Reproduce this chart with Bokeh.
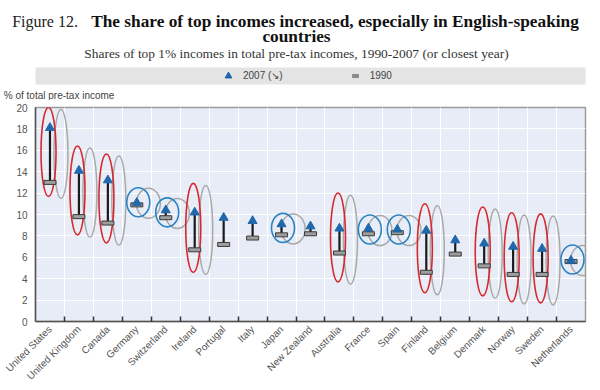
import math
from bokeh.plotting import figure
from bokeh.layouts import column
from bokeh.models import (Range1d, FixedTicker, Legend, LegendItem, BoxAnnotation)
from bokeh.embed import file_html
from bokeh.resources import INLINE
from bokeh.core.properties import value

# ---------------- data ----------------
countries = ["United States", "United Kingdom", "Canada", "Germany", "Switzerland",
             "Ireland", "Portugal", "Italy", "Japan", "New Zealand", "Australia",
             "France", "Spain", "Finland", "Belgium", "Denmark", "Norway", "Sweden",
             "Netherlands"]
share_2007 = [18.1, 14.1, 13.2, 11.1, 10.4, 10.2, 9.7, 9.4, 9.1, 8.9, 8.7, 8.7, 8.6,
              8.5, 7.6, 7.3, 7.0, 6.8, 5.7]
share_1990 = [13.0, 9.8, 9.2, 10.9, 9.7, 6.7, 7.2, 7.8, 8.1, 8.2, 6.4, 8.2, 8.3,
              4.6, 6.3, 5.2, 4.4, 4.4, 5.6]
# country grouping highlighted in the figure
group = ["large", "large", "large", "small", "small", "large", "", "", "small", "",
         "large", "small", "small", "large", "", "large", "large", "large", "small"]
y_ticks = [0, 2, 4, 6, 8, 10, 12, 14, 16, 18, 20]

title_fig = "Figure 12."
title_main = "The share of top incomes increased, especially in English-speaking"
title_line2 = "countries"
subtitle = "Shares of top 1% incomes in total pre-tax incomes, 1990-2007 (or closest year)"
y_label = "% of total pre-tax income"
legend_2007 = "2007 (\u2198)"
legend_1990 = "1990"

# ---------------- styles ----------------
BLUE = "#1f68ad"
RED = "#d7282d"
CIRCLE_BLUE = "#2c83c3"
GREY_RING = "#a9a9a9"
BAR_FILL = "#9e9e9e"
BG = "#e7ecf6"
SANS = "Liberation Sans"
SERIF = "Liberation Serif"

n = len(countries)
xs = [i + 0.5 for i in range(n)]

# ---------------- header figure (page coordinates, y measured upward) ----------------
W = 598
HH = 100
h = figure(width=W, height=HH, x_range=Range1d(0, W), y_range=Range1d(0, HH),
           output_backend="svg", toolbar_location=None, min_border=0,
           x_axis_location=None, y_axis_location=None, frame_align=False)
h.grid.visible = False
h.outline_line_color = None
h.background_fill_color = "white"
h.border_fill_color = "white"

h.add_layout(BoxAnnotation(left=35, right=585, bottom=16, top=33,
                           fill_color="#e4e4e4", fill_alpha=1, line_color=None))

h.text(x=[11.7], y=[79], text=[title_fig], text_font=value(SERIF), text_font_size="16px",
       text_color="#222", text_baseline="alphabetic", text_align="left")
h.text(x=[90.7], y=[79], text=[title_main], text_font=value(SERIF),
       text_font_size="17.3px", text_font_style="bold", text_color="#111",
       text_baseline="alphabetic", text_align="left")
h.text(x=[296], y=[64], text=[title_line2], text_font=value(SERIF),
       text_font_size="17.3px", text_font_style="bold", text_color="#111",
       text_align="center", text_baseline="alphabetic")
h.text(x=[296], y=[47], text=[subtitle], text_font=value(SERIF), text_font_size="13.4px",
       text_color="#333", text_align="center", text_baseline="alphabetic")
h.text(x=[3.3], y=[5], text=[y_label], text_font=value(SANS), text_font_size="10px",
       text_color="#444", text_baseline="middle", text_align="left")

# legend proxies (outside visible range)
lr1 = h.scatter([-50], [-50], marker="triangle", size=9, fill_color=BLUE, line_color=BLUE)
lr2 = h.scatter([-50], [-50], marker="dash", size=9, line_color="#8a8a8a", line_width=4)
legend = Legend(items=[LegendItem(label=legend_2007, renderers=[lr1]),
                       LegendItem(label=legend_1990, renderers=[lr2])],
                orientation="horizontal", location=(218, 16), padding=0, spacing=62,
                glyph_width=20, glyph_height=17, label_standoff=5, margin=0,
                background_fill_alpha=0, border_line_color=None,
                label_text_font=SANS, label_text_font_size="10px",
                label_text_color="#444")
h.add_layout(legend)

# ---------------- main chart ----------------
p = figure(width=W, height=288, x_range=Range1d(0, n), y_range=Range1d(0, 20),
           output_backend="svg", toolbar_location=None, frame_align=False,
           min_border_left=35, min_border_right=13, min_border_top=7, min_border_bottom=64)
p.background_fill_color = BG
p.border_fill_color = "white"
p.outline_line_color = "#9a9a9a"
p.outline_line_width = 1.5

large = [i for i, g in enumerate(group) if g == "large"]
small = [i for i, g in enumerate(group) if g == "small"]
mid = [(a + b) / 2 for a, b in zip(share_2007, share_1990)]

# grey companion rings (drawn first, offset to the right)
p.ellipse([xs[i] + 0.38 for i in large], [mid[i] + 0.1 for i in large],
          width=14, height=89, width_units="screen", height_units="screen",
          fill_color=None, line_color=GREY_RING, line_width=1.5)
p.ellipse([xs[i] + 0.4 for i in small], [mid[i] + 0.05 for i in small],
          width=24, height=30, width_units="screen", height_units="screen",
          fill_color=None, line_color=GREY_RING, line_width=1.5)
# coloured rings
p.ellipse([xs[i] - 0.05 for i in large], [mid[i] + 0.3 for i in large],
          width=15, height=89, width_units="screen", height_units="screen",
          fill_color=None, line_color=RED, line_width=1.6)
p.ellipse([xs[i] + 0.05 for i in small], [mid[i] + 0.15 for i in small],
          width=23, height=29, width_units="screen", height_units="screen",
          fill_color=None, line_color=CIRCLE_BLUE, line_width=1.6)

# arrows 1990 -> 2007
p.segment(x0=xs, y0=share_1990, x1=xs, y1=share_2007, line_color="#1a1a1a", line_width=2.2)
p.rect(xs, share_1990, width=12, height=4, width_units="screen", height_units="screen",
       fill_color=BAR_FILL, line_color="#3a3a3a", line_width=1)
p.scatter(xs, share_2007, marker="triangle", size=9, fill_color=BLUE, line_color=BLUE)

# axes
p.xaxis.ticker = FixedTicker(ticks=xs, minor_ticks=list(range(1, n)))
p.xaxis.major_label_overrides = {x: c for x, c in zip(xs, countries)}
p.xaxis.major_label_orientation = math.pi / 4
p.xaxis.major_tick_line_color = None
p.xaxis.major_tick_in = 0
p.xaxis.major_tick_out = 0
p.xaxis.minor_tick_line_color = "#333"
p.xaxis.minor_tick_line_width = 1.5
p.xaxis.minor_tick_in = 5
p.xaxis.minor_tick_out = 0
p.xaxis.major_label_standoff = 6
p.xaxis.major_label_text_font = SANS
p.xaxis.major_label_text_font_size = "10px"
p.xaxis.major_label_text_color = "#555"
p.xaxis.axis_line_color = "#555"
p.xaxis.axis_line_width = 1.5

p.yaxis.ticker = FixedTicker(ticks=y_ticks)
p.yaxis.major_tick_line_color = None
p.yaxis.major_tick_in = 0
p.yaxis.major_tick_out = 0
p.yaxis.minor_tick_line_color = None
p.yaxis.major_label_standoff = 8
p.yaxis.major_label_text_font = SANS
p.yaxis.major_label_text_font_size = "10px"
p.yaxis.major_label_text_color = "#555"
p.yaxis.axis_line_color = "#555"
p.yaxis.axis_line_width = 1.5

p.xgrid.ticker = FixedTicker(ticks=list(range(1, n)))
p.xgrid.grid_line_color = "white"
p.xgrid.grid_line_width = 1
p.ygrid.grid_line_color = "white"
p.ygrid.grid_line_width = 1

layout = column(h, p, spacing=0)
open("out.html", "w").write(file_html(layout, INLINE))
